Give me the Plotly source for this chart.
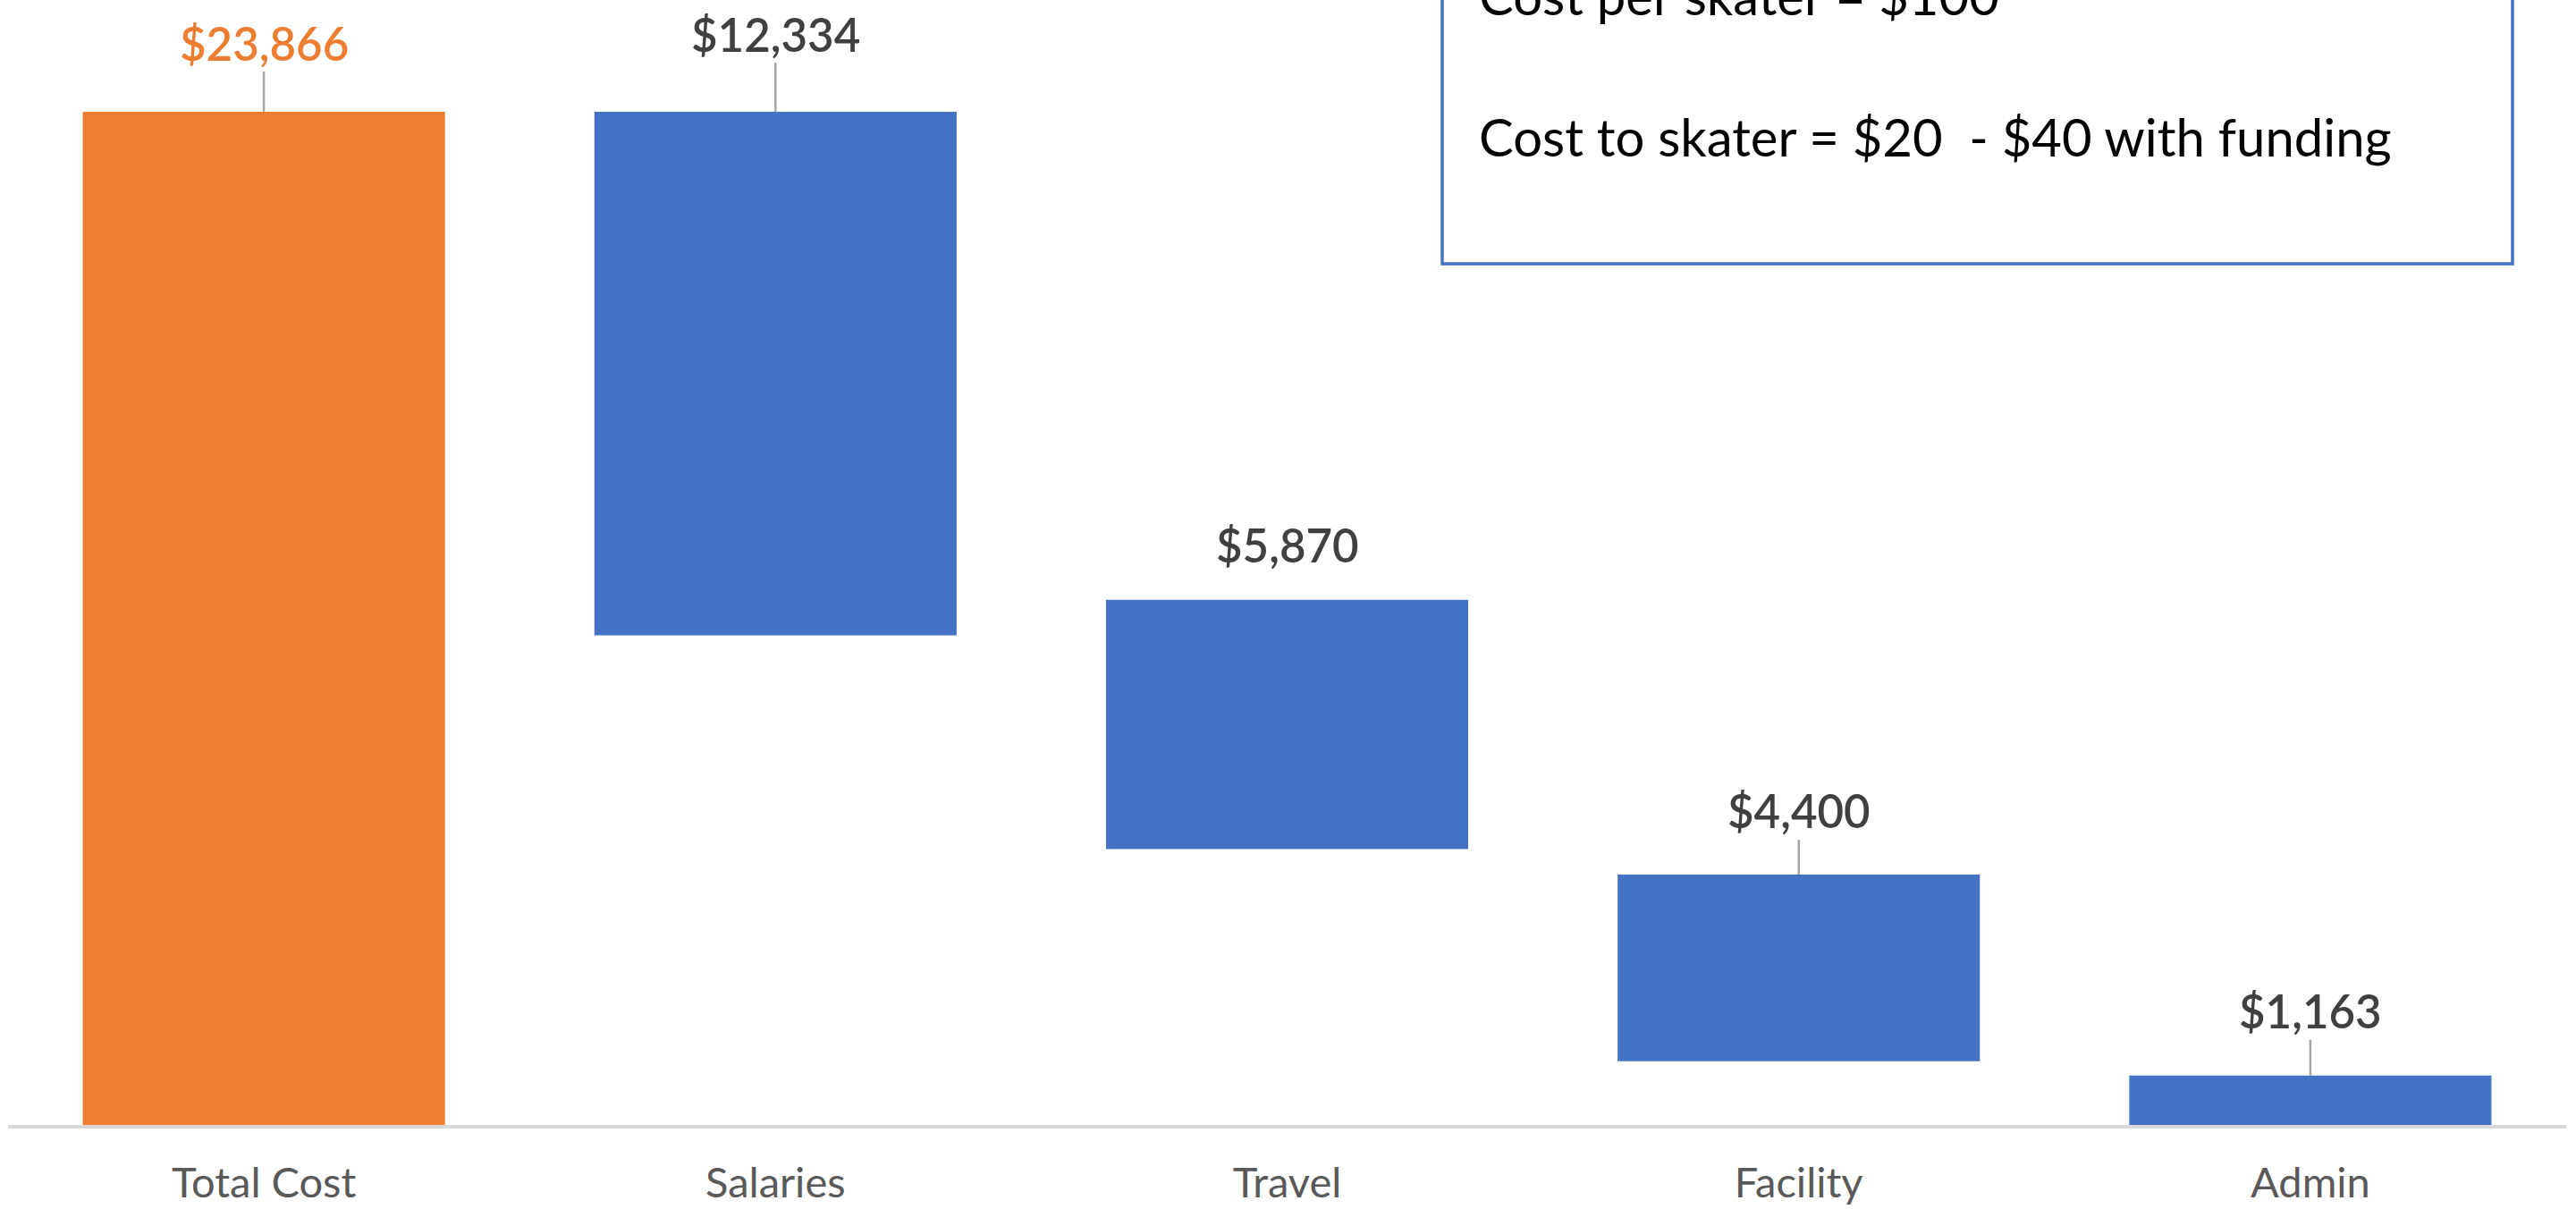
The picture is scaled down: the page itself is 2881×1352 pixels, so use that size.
import plotly.graph_objects as go

# ---- data ----
categories = ["Total Cost", "Salaries", "Travel", "Facility", "Admin"]
values = [23866, 12334, 5870, 4400, 1163]
bases = [0, 11532, 6500, 1500, 0]          # invisible offsets
label_texts = ["$23,866", "$12,334", "$5,870", "$4,400", "$1,163"]
box_lines = ["Cost per skater = $100", "Cost to skater = $20  - $40 with funding"]

# ---- styling ----
ORANGE = "#ed7d31"
BLUE = "#4472c4"
bar_colors = [ORANGE, BLUE, BLUE, BLUE, BLUE]
label_colors = [ORANGE, "#404040", "#404040", "#404040", "#404040"]
label_offsets = [77, 87, 61, 71, 72]        # px above bar top (label centre)
show_leader = [True, True, False, True, True]
FONT = "Lato"

W, H = 2881, 1352
ML, MR, MT, MB = 9, 11, 0, 94
plot_h = H - MT - MB
px_per_unit = (1258 - 125) / values[0]
ymax = plot_h / px_per_unit

fig = go.Figure()
fig.add_trace(go.Bar(
    x=categories, y=values, base=bases,
    marker=dict(color=bar_colors, line=dict(width=0)),
    hoverinfo="skip", showlegend=False,
))

annotations = []
for cat, v, b, txt, col, off, lead in zip(categories, values, bases, label_texts,
                                          label_colors, label_offsets, show_leader):
    annotations.append(dict(
        x=cat, y=b + v, xref="x", yref="y",
        text=txt, showarrow=True, ax=0, ay=-off,
        arrowhead=0, arrowwidth=2.5, standoff=0,
        arrowcolor="#a6a6a6" if lead else "rgba(0,0,0,0)",
        font=dict(family=FONT, size=51, color=col, weight=600),
    ))

# text box
plot_w = W - ML - MR
def px_to_paper_x(px):
    return (px - ML) / plot_w
def px_to_paper_y(py):
    return (MT + plot_h - py) / plot_h

box_x0, box_x1 = px_to_paper_x(1613), px_to_paper_x(2810)
box_y0 = px_to_paper_y(295)
shapes = [dict(type="rect", xref="paper", yref="paper",
               x0=box_x0, x1=box_x1, y0=box_y0, y1=1.3,
               line=dict(color=BLUE, width=3.5), fillcolor="rgba(0,0,0,0)")]

for line, cy in zip(box_lines, [-5, 153]):
    annotations.append(dict(
        x=px_to_paper_x(1652), y=px_to_paper_y(cy), xref="paper", yref="paper",
        xanchor="left", yanchor="middle", showarrow=False, text=line.replace("  ", "&nbsp; "),
        font=dict(family=FONT, size=58, color="#000000"),
    ))

fig.update_layout(
    width=W, height=H,
    margin=dict(l=ML, r=MR, t=MT, b=MB, pad=0),
    paper_bgcolor="white", plot_bgcolor="white",
    bargap=0.292,
    xaxis=dict(showgrid=False, showline=True, linecolor="#d9d9d9", linewidth=3.5,
               ticks="", tickfont=dict(family=FONT, size=47, color="#595959"),
               ticklabelstandoff=21, fixedrange=True),
    yaxis=dict(range=[0, ymax], visible=False, showgrid=False, zeroline=False),
    annotations=annotations,
    shapes=shapes,
    font=dict(family=FONT),
)

fig.write_html("out.html")
